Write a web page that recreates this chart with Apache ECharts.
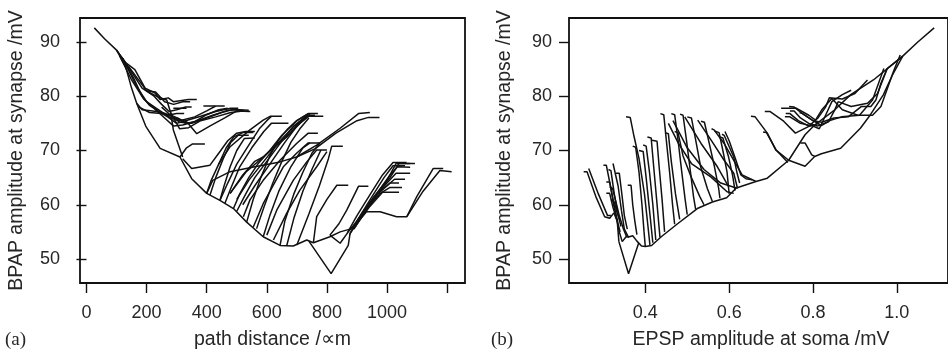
<!DOCTYPE html>
<html><head><meta charset="utf-8">
<script src="https://cdn.jsdelivr.net/npm/echarts@6/dist/echarts.min.js"></script>
<style>html,body{margin:0;padding:0;background:#fff;overflow:hidden}#c{width:948px;height:356px}</style>
</head><body><div id="c"></div><script>
// ---------- Panel (a): path distance (um) vs BPAP amplitude (mV) ----------
const distTicks = [0, 200, 400, 600, 800, 1000, 1200];
const distLabels = [0, 200, 400, 600, 800, 1000];
const bpapTicks = [50, 60, 70, 80, 90];

const distTop = [
  [[26,92.6],[60,90.6],[100,88.5],[130,86.2]],
  [[100,88.5],[130,86.2],[161,84.9],[195,81.5],[228,80.6],[245,79.4],[272,79.7],[289,79.0],[339,79.4],[367,79.4]],
  [[130,86.2],[185,81.5],[225,80.0],[250,78.5],[275,77.2],[300,77.5],[330,78.0],[350,78.0]],
  [[120,87.0],[160,83.0],[185,80.0],[210,78.3],[240,77.2],[270,76.5],[300,76.8],[325,76.8]],
  [[120,87.0],[165,82.0],[200,79.0],[240,77.5],[280,76.0],[310,75.5],[360,76.2],[400,77.3],[430,78.2],[460,78.2]],
  [[110,87.5],[150,83.0],[190,79.5],[230,77.5],[270,76.2],[300,75.0],[330,75.5],[380,76.3],[430,77.2],[480,77.8],[505,77.8]],
  [[230,77.5],[260,76.0],[290,74.5],[320,74.7],[370,75.5],[420,76.5],[470,77.4],[510,77.5],[540,77.4]],
  [[250,78.0],[280,76.5],[310,75.2],[350,75.0],[400,76.0],[450,77.0],[490,77.6],[525,77.3]],
  [[280,77.0],[310,74.0],[340,74.2],[380,75.5],[430,76.2],[480,77.0],[520,77.3]],
  [[300,76.0],[335,75.2],[367,73.1],[410,74.5],[460,76.0],[500,77.3],[545,77.2]],
  [[140,85.5],[200,81.0],[240,79.8],[267,79.3],[280,77.0],[289,73.8],[320,68.8]],
  [[167,78.7],[185,77.5],[220,77.3],[245,77.1],[280,76.5],[310,75.8]],
  [[175,78.0],[210,77.0],[250,76.8],[290,76.2],[330,75.0],[360,75.3],[400,76.6],[440,77.5],[470,77.8]],
  [[200,81.0],[230,80.8],[260,79.0],[290,78.5],[320,79.0],[345,79.0]],
  [[289,77.8],[333,77.8]],
  [[389,78.2],[428,78.2]]
];

const distLower = [
  [[100,88.5],[130,85.5],[150,81.5],[167,78.7],[197,74.5],[245,70.4],[311,68.8],[350,64.8],[400,62.1],[444,60.8],[489,59.3],[533,56.8],[588,54.1],[644,52.5],[688,52.4],[733,53.5],[755,53.0],[810,54.1],[844,55.0],[883,55.6]],
  [[311,68.8],[333,70.5],[353,71.2],[394,71.2]],
  [[320,68.5],[350,66.7],[411,67.3],[440,69.5],[470,71.8],[500,73.2],[530,73.5],[560,73.5]],
  [[740,53.3],[814,47.3],[871,52.5],[877,54.7]],
  [[810,54.4],[844,52.9],[871,55.0]]
];

const distFan = [
  [[400,62.1],[415,64.5],[440,67.5],[465,70.5],[490,72.5],[520,73.3],[555,73.3]],
  [[411,61.8],[430,65.0],[455,68.5],[480,71.5],[505,72.8],[540,72.8]],
  [[444,60.8],[458,63.5],[478,67.0],[500,70.0],[525,72.2],[560,72.3]],
  [[440,67.5],[478,70.7],[544,73.8],[588,75.6],[611,76.3],[650,76.3]],
  [[460,60.2],[480,63.0],[510,67.0],[550,70.5],[590,73.5],[615,75.0],[638,75.0],[672,75.0]],
  [[478,62.1],[520,65.5],[560,68.0],[588,68.8],[630,70.8],[666,72.5],[710,75.0],[744,76.5],[760,76.5]],
  [[489,59.3],[510,62.0],[540,65.0],[570,67.5],[610,70.0],[650,72.8],[700,75.5],[738,76.8],[770,76.8]],
  [[500,58.8],[530,62.0],[560,65.0],[600,68.0],[640,71.0],[690,74.5],[730,76.3],[744,76.3],[788,76.3]],
  [[522,57.8],[544,60.9],[588,64.5],[644,68.2],[699,71.3],[738,73.2],[770,73.2]],
  [[555,55.9],[588,60.2],[655,67.0],[699,69.5],[738,71.4],[777,71.4]],
  [[600,54.4],[633,59.0],[688,64.5],[733,67.9],[766,70.1],[800,70.1]],
  [[622,53.5],[666,58.4],[710,62.7],[766,67.0],[800,69.8]],
  [[400,62.1],[420,64.5],[478,66.1],[560,67.0],[644,67.9],[699,68.8],[766,71.0],[844,74.1],[905,76.8],[943,77.0]],
  [[699,68.8],[760,70.3],[830,73.2],[900,75.5],[938,76.1],[975,76.1]],
  [[533,56.8],[555,61.0],[580,65.0],[610,69.0],[640,72.0],[670,74.0],[700,75.5],[738,76.8]],
  [[566,55.6],[590,59.5],[620,64.0],[650,68.0],[680,71.5],[710,74.0],[740,76.0]],
  [[478,62.1],[530,66.0],[588,68.8],[630,71.0],[666,72.5],[705,75.0],[744,76.5]],
  [[500,61.0],[540,64.5],[590,68.0],[640,71.5],[690,74.5],[730,76.2],[744,76.8]],
  [[520,60.0],[560,63.5],[610,67.5],[660,71.5],[700,74.5],[738,76.5]],
  [[444,60.8],[470,64.0],[500,67.5],[540,71.0],[575,74.0],[600,75.5],[616,76.3]],
  [[700,52.6],[740,58.3],[775,63.5],[805,68.5],[816,70.8],[853,70.8]],
  [[644,52.5],[660,57.0],[690,62.0],[720,66.0],[750,69.5],[777,71.4]],
  [[666,52.4],[690,57.5],[720,62.5],[750,66.5],[780,70.1]],
  [[588,54.1],[610,58.0],[640,62.5],[680,67.0],[720,70.5],[744,71.4]]
];

const distRight = [
  [[755,53.0],[766,57.8],[800,61.0],[833,63.6],[871,63.6]],
  [[810,54.4],[840,56.5],[866,59.0],[905,63.4],[938,63.4]],
  [[871,55.0],[900,57.0],[950,61.0],[1000,64.5],[1030,67.6],[1077,67.6]],
  [[877,54.7],[910,57.5],[960,61.5],[1010,65.0],[1040,67.6],[1093,67.6]],
  [[883,55.6],[920,58.5],[965,62.0],[1010,65.5],[1035,67.0],[1077,66.9]],
  [[880,55.0],[915,58.0],[960,61.5],[1000,64.0],[1030,65.8],[1077,65.8]],
  [[885,55.5],[925,59.0],[965,62.0],[1000,63.5],[1025,64.7],[1060,64.7]],
  [[890,55.5],[930,59.0],[970,62.0],[1010,64.0],[1040,64.0]],
  [[895,56.0],[935,59.5],[975,62.0],[1010,63.2],[1050,63.2]],
  [[900,56.5],[940,59.5],[985,62.3],[1040,62.3]],
  [[875,54.5],[905,57.5],[950,61.5],[990,65.0],[1020,67.2],[1060,67.2]],
  [[868,54.8],[900,58.0],[945,62.0],[985,65.5],[1020,67.8],[1065,67.8]],
  [[883,55.6],[932,58.7],[977,58.7],[1032,57.8],[1066,57.8],[1099,61.5],[1154,66.7],[1187,66.7]],
  [[1066,57.8],[1120,62.5],[1176,66.3],[1215,66.1]]
];

// ---------- Panel (b): EPSP amplitude at soma (mV) vs BPAP amplitude (mV) ----------
const epspTicks = [0.4, 0.6, 0.8, 1.0];

const epspTop = [
  [[1.089,92.6],[1.050,90.0],[1.014,87.4],[0.944,83.0],[0.890,80.3],[0.852,77.5],[0.804,74.7],[0.781,72.9],[0.742,68.2],[0.691,64.9],[0.664,64.3],[0.617,63.1],[0.594,61.3],[0.560,60.5],[0.524,59.3],[0.477,56.5],[0.438,54.1],[0.415,52.5],[0.400,52.3],[0.391,52.4],[0.380,53.3],[0.370,54.3],[0.358,54.0]],
  [[1.014,87.4],[0.990,84.0],[0.968,80.3],[0.937,76.6],[0.913,74.1],[0.866,70.4],[0.820,69.4],[0.804,68.9],[0.781,67.1],[0.742,68.2]],
  [[0.804,68.9],[0.797,69.2],[0.781,71.4],[0.770,71.4]],
  [[1.014,87.4],[0.977,85.1],[0.962,82.4],[0.950,79.3],[0.938,78.1],[0.915,78.1],[0.884,76.2],[0.850,76.0],[0.821,75.2],[0.800,75.5],[0.775,76.8],[0.755,78.0],[0.743,78.1]],
  [[1.008,87.6],[0.993,84.8],[0.962,78.1],[0.942,76.5],[0.907,76.5],[0.870,77.5],[0.845,79.6],[0.821,77.5],[0.806,75.6],[0.790,76.5],[0.760,77.8],[0.736,77.8],[0.724,77.8]],
  [[0.977,85.1],[0.954,80.5],[0.930,78.7],[0.891,78.1],[0.860,79.0],[0.852,77.5],[0.837,75.3],[0.810,74.5],[0.790,75.0],[0.770,76.0],[0.755,77.3],[0.745,77.3]],
  [[0.969,85.1],[0.942,79.3],[0.911,76.5],[0.868,76.2],[0.840,75.5],[0.820,74.6],[0.798,75.6],[0.775,76.8],[0.768,77.0]],
  [[0.930,83.0],[0.900,80.5],[0.870,79.5],[0.839,79.7],[0.830,78.0],[0.812,76.0],[0.790,74.5],[0.765,75.5],[0.745,76.8],[0.735,76.8]],
  [[0.891,81.1],[0.870,80.3],[0.845,79.0],[0.830,76.5],[0.815,74.0],[0.800,74.5],[0.770,75.0],[0.745,76.2],[0.733,76.2]],
  [[0.815,75.0],[0.789,74.4],[0.758,73.2],[0.730,75.4],[0.697,77.2],[0.685,77.2]],
  [[0.742,68.2],[0.711,70.1],[0.691,73.2],[0.662,76.2],[0.652,76.3]],
  [[0.681,73.4],[0.689,73.3],[0.712,70.1],[0.740,67.8]]
];

const epspMid = [
  [[0.455,75.0],[0.479,71.3],[0.510,67.6],[0.557,65.1],[0.595,62.4],[0.611,62.1]],
  [[0.494,76.2],[0.533,71.3],[0.572,67.0],[0.599,63.3]],
  [[0.525,75.6],[0.557,71.9],[0.588,68.2],[0.611,65.8],[0.620,63.0]],
  [[0.558,74.0],[0.564,73.8],[0.588,71.3],[0.611,68.2],[0.631,65.5],[0.650,64.8],[0.664,64.3]],
  [[0.583,73.0],[0.588,72.8],[0.611,68.8],[0.619,65.8],[0.625,64.0]],
  [[0.590,73.5],[0.600,71.8],[0.615,68.5],[0.628,65.5],[0.640,64.8],[0.655,64.6]],
  [[0.466,75.5],[0.500,70.5],[0.540,66.5],[0.580,64.0],[0.617,63.1]],
  [[0.354,76.2],[0.364,76.1],[0.372,73.0],[0.385,68.5],[0.398,62.0],[0.405,57.0],[0.411,52.6]],
  [[0.370,70.8],[0.377,70.6],[0.385,66.0],[0.392,60.0],[0.397,55.0],[0.400,52.3]],
  [[0.385,70.0],[0.395,69.8],[0.402,65.0],[0.410,59.0],[0.418,53.0]],
  [[0.405,72.5],[0.414,72.3],[0.420,67.0],[0.427,61.0],[0.435,54.0]],
  [[0.416,71.9],[0.428,71.7],[0.433,67.0],[0.440,61.0],[0.446,55.0]],
  [[0.436,76.8],[0.444,76.6],[0.450,72.0],[0.458,66.0],[0.465,60.0],[0.470,56.4]],
  [[0.447,73.3],[0.455,73.1],[0.462,68.0],[0.472,62.0],[0.482,57.3]],
  [[0.462,76.8],[0.470,76.6],[0.478,72.0],[0.487,66.0],[0.495,61.0],[0.500,58.2]],
  [[0.483,76.7],[0.490,76.5],[0.498,72.0],[0.507,66.5],[0.515,61.5],[0.520,59.2]],
  [[0.470,73.5],[0.478,73.3],[0.490,69.0],[0.510,65.0],[0.530,61.5],[0.540,60.0]],
  [[0.500,76.2],[0.510,76.0],[0.520,72.0],[0.532,67.0],[0.548,63.0],[0.560,60.6]],
  [[0.533,75.4],[0.541,75.2],[0.552,71.5],[0.565,67.0],[0.575,63.0],[0.578,61.2]],
  [[0.565,73.6],[0.576,73.3],[0.585,70.0],[0.595,66.0],[0.600,62.0]],
  [[0.578,72.5],[0.585,72.3],[0.598,69.0],[0.608,65.5],[0.614,62.6]],
  [[0.395,71.0],[0.402,70.8],[0.410,66.0],[0.418,60.0],[0.425,53.5]]
];

const epspLeft = [
  [[0.253,66.1],[0.261,66.1],[0.282,61.5],[0.303,57.8],[0.315,57.5],[0.325,58.5]],
  [[0.265,66.7],[0.268,66.7],[0.288,62.0],[0.310,58.0],[0.318,58.0]],
  [[0.300,67.3],[0.307,67.3],[0.318,63.0],[0.330,58.0],[0.338,55.0],[0.345,53.2]],
  [[0.323,67.6],[0.327,67.6],[0.335,63.5],[0.343,59.0],[0.350,55.5],[0.360,54.0]],
  [[0.330,65.8],[0.338,65.8],[0.344,62.0],[0.350,58.0],[0.357,55.5]],
  [[0.307,64.2],[0.315,64.2],[0.325,60.0],[0.335,56.5],[0.340,55.0]],
  [[0.307,62.1],[0.315,62.1],[0.323,59.5],[0.333,57.0]],
  [[0.358,63.6],[0.366,63.6],[0.370,60.0],[0.375,57.0],[0.380,54.5]],
  [[0.312,66.5],[0.318,66.3],[0.326,62.0],[0.334,58.5],[0.342,56.0]],
  [[0.315,63.3],[0.322,63.0],[0.330,60.5],[0.338,58.0],[0.348,55.5],[0.355,54.2]],
  [[0.318,61.0],[0.326,60.5],[0.333,58.5],[0.340,57.0]],
  [[0.337,53.2],[0.360,47.3],[0.384,52.9]],
  [[0.325,58.5],[0.333,57.0],[0.337,53.2]],
  [[0.345,53.2],[0.355,54.2],[0.358,54.0]]
];

// ---------- build chart ----------
const INK = '#111111';
const TXT = '#262626';
function lines(groups, axisIndex) {
  const out = [];
  groups.forEach(g => g.forEach(pl => out.push({
    type: 'line', xAxisIndex: axisIndex, yAxisIndex: axisIndex, data: pl,
    showSymbol: false, symbol: 'none', silent: true, animation: false,
    lineStyle: { color: INK, width: 1.5 }, z: 3
  })));
  return out;
}
function xAx(grid, min, max, ticks, labels, fmt) {
  return {
    type: 'value', gridIndex: grid, min: min, max: max,
    axisLine: { show: false }, splitLine: { show: false },
    axisTick: { show: true, inside: false, length: 10, customValues: ticks, lineStyle: { color: INK, width: 1.4 } },
    axisLabel: { customValues: labels, margin: 21, fontSize: 18, color: TXT, fontFamily: 'Liberation Sans', formatter: fmt }
  };
}
function yAx(grid, margin) {
  return {
    type: 'value', gridIndex: grid, min: 45.58, max: 94.42,
    axisLine: { show: false }, splitLine: { show: false },
    axisTick: { show: true, inside: false, length: 10, customValues: bpapTicks, lineStyle: { color: INK, width: 1.4 } },
    axisLabel: { customValues: bpapTicks, margin: margin, fontSize: 18, color: TXT, fontFamily: 'Liberation Sans' }
  };
}
const chart = echarts.init(document.getElementById('c'), null, { renderer: 'canvas' });
const txt = (x, y, s, font, rot, align) => ({
  type: 'text', x: x, y: y, rotation: rot || 0,
  style: { text: s, font: font, fill: TXT, align: align || 'center', verticalAlign: 'middle' }
});
chart.setOption({
  backgroundColor: '#fff',
  animation: false,
  grid: [
    { left: 80, top: 18, width: 385, height: 265, show: true, borderColor: INK, borderWidth: 1.8, backgroundColor: 'transparent' },
    { left: 569, top: 18, width: 387, height: 265, show: true, borderColor: INK, borderWidth: 1.8, backgroundColor: 'transparent' }
  ],
  xAxis: [
    xAx(0, -21.6, 1259.5, distTicks, distLabels, v => String(v)),
    xAx(1, 0.218, 1.122, epspTicks, epspTicks, v => Number(v).toFixed(1))
  ],
  yAxis: [yAx(0, 20), yAx(1, 17)],
  series: lines([distTop, distLower, distFan, distRight], 0).concat(lines([epspTop, epspMid, epspLeft], 1)),
  graphic: [
    txt(17, 150.5, 'BPAP amplitude at synapse /mV', '19.5px "Liberation Sans"', Math.PI / 2),
    txt(272.5, 340, 'path distance /\u221Dm', '19.5px "Liberation Sans"'),
    txt(5, 340, '(a)', '19px "Liberation Serif"', 0, 'left'),
    txt(505, 150.5, 'BPAP amplitude at synapse /mV', '19.5px "Liberation Sans"', Math.PI / 2),
    txt(761, 340, 'EPSP amplitude at soma /mV', '19.5px "Liberation Sans"'),
    txt(491, 340, '(b)', '19px "Liberation Serif"', 0, 'left')
  ]
});
</script></body></html>
